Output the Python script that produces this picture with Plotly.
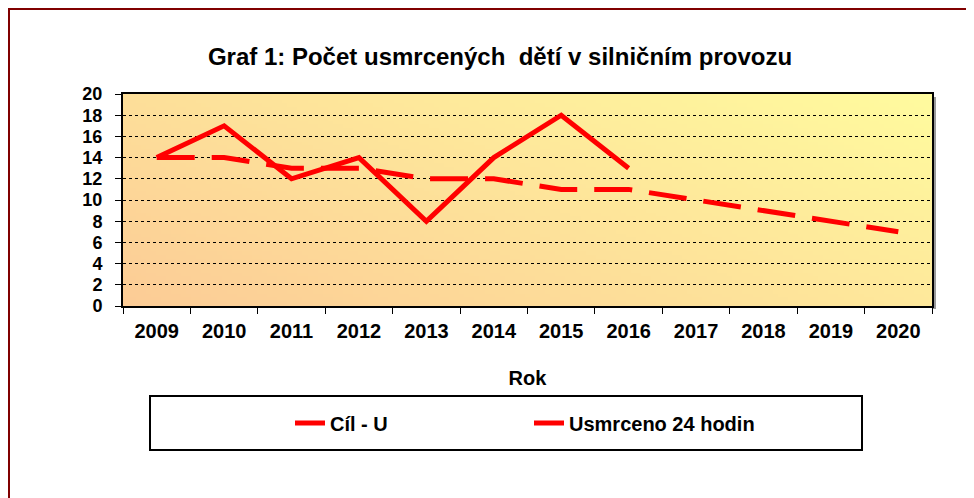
import zlib, struct, base64
import plotly.graph_objects as go

# ---- data ----
years = ["2009", "2010", "2011", "2012", "2013", "2014", "2015", "2016",
         "2017", "2018", "2019", "2020"]
cil_u = [14, 14, 13, 13, 12, 12, 11, 11, 10, 9, 8, 7]
usmrceno_years = ["2009", "2010", "2011", "2012", "2013", "2014", "2015", "2016"]
usmrceno = [14, 17, 12, 14, 8, 14, 18, 13]
y_ticks = [0, 2, 4, 6, 8, 10, 12, 14, 16, 18, 20]

# ---- geometry (page coords; the page body adds an 8px offset) ----
OFF = 8
W, H = 974 - OFF, 498 - OFF
PL, PR, PT, PB = 123, 932, 94, 306          # plot area in page pixels
ML, MR, MT, MB = PL - OFF, W - (PR - OFF), PT - OFF, H - (PB - OFF)
PW, PH = W - ML - MR, H - MT - MB


def px(xp):
    return (xp - PL) / PW


def py(yp):
    return (PB - yp) / PH


# gradient background (bottom-left orange -> top-right yellow)
def gradient_png(w, h, c0, c1):
    raw = bytearray()
    for j in range(h):
        raw.append(0)
        for i in range(w):
            t = (i / (w - 1) * 0.6 + (1 - j / (h - 1)) * 0.4)
            for k in range(3):
                raw.append(int(round(c0[k] + (c1[k] - c0[k]) * t)))

    def chunk(tag, data):
        return (struct.pack(">I", len(data)) + tag + data +
                struct.pack(">I", zlib.crc32(tag + data) & 0xffffffff))

    png = (b"\x89PNG\r\n\x1a\n" +
           chunk(b"IHDR", struct.pack(">IIBBBBB", w, h, 8, 2, 0, 0, 0)) +
           chunk(b"IDAT", zlib.compress(bytes(raw))) +
           chunk(b"IEND", b""))
    return "data:image/png;base64," + base64.b64encode(png).decode()


bg = gradient_png(160, 60, (252, 204, 150), (255, 251, 158))

FONT = "Liberation Sans, Arial, sans-serif"

fig = go.Figure()
fig.add_trace(go.Scatter(
    x=years, y=cil_u, name="Cíl - U", mode="lines",
    line=dict(color="#FF0000", width=5, dash="38px,17px"),
))
fig.add_trace(go.Scatter(
    x=usmrceno_years, y=usmrceno, name="Usmrceno 24 hodin", mode="lines",
    line=dict(color="#FF0000", width=5),
))

shapes = [
    # outer dark red frame
    dict(type="rect", xref="paper", yref="paper",
         x0=px(9), x1=px(990), y0=py(515), y1=py(9),
         line=dict(color="#800000", width=2), fillcolor="rgba(0,0,0,0)",
         layer="below"),
    # plot area shadow (right)
    dict(type="line", xref="paper", yref="paper",
         x0=px(934.5), x1=px(934.5), y0=py(309), y1=py(97),
         line=dict(color="#9a9a9a", width=3), layer="below"),
    # legend box
    dict(type="rect", xref="paper", yref="paper",
         x0=px(150), x1=px(862), y0=py(450), y1=py(396),
         line=dict(color="black", width=2), fillcolor="white",
         layer="below"),
]

fig.update_layout(
    width=W, height=H,
    margin=dict(l=ML, r=MR, t=MT, b=MB, pad=0),
    paper_bgcolor="white",
    plot_bgcolor="rgba(0,0,0,0)",
    font=dict(family=FONT, color="black"),
    title=dict(text="Graf 1: Počet usmrcených  dětí v silničním provozu",
               xref="container", x=(500 - OFF) / W, xanchor="center",
               yref="container", y=1 - (57 - OFF) / H, yanchor="middle",
               font=dict(family=FONT, size=24, color="black",
                         weight="bold")),
    images=[dict(source=bg, xref="paper", yref="paper", x=0, y=1,
                 sizex=1, sizey=1, sizing="stretch", layer="below")],
    shapes=shapes,
    showlegend=True,
    legend=dict(orientation="h", x=px(290), xanchor="left",
                y=py(423), yanchor="middle",
                bgcolor="rgba(0,0,0,0)", borderwidth=0,
                entrywidth=194, entrywidthmode="pixels",
                font=dict(family=FONT, size=20, color="black",
                          weight="bold")),
    xaxis=dict(
        type="category", categoryorder="array", categoryarray=years,
        range=[-0.5, len(years) - 0.5],
        tickson="boundaries", ticks="outside", ticklen=6, tickwidth=1,
        tickcolor="black", showgrid=False, zeroline=False,
        showline=True, linecolor="black", linewidth=2, mirror=True,
        tickfont=dict(family=FONT, size=20, color="black", weight="bold"),
        ticklabelstandoff=6,
        title=dict(text="Rok", standoff=30,
                   font=dict(family=FONT, size=20, color="black",
                             weight="bold")),
    ),
    yaxis=dict(
        range=[0, 20], tickvals=y_ticks, ticks="outside", ticklen=6,
        tickwidth=1, tickcolor="black",
        showgrid=True, gridcolor="black", gridwidth=1, griddash="dot",
        zeroline=False, showline=True, linecolor="black", linewidth=2,
        mirror=True, ticklabelstandoff=9,
        tickfont=dict(family=FONT, size=18, color="black", weight="bold"),
    ),
)

fig.write_html("out.html")
